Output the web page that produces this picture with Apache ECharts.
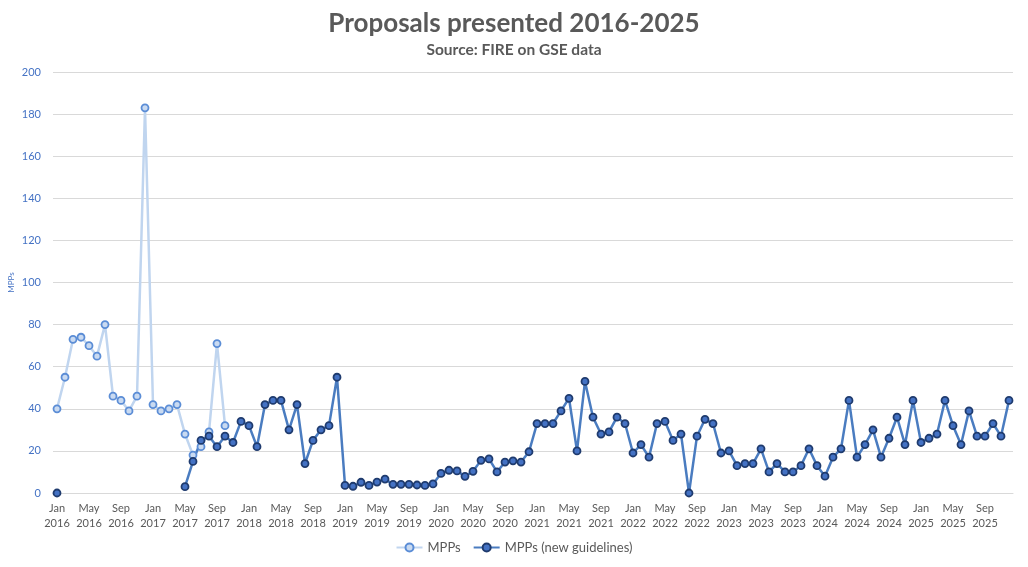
<!DOCTYPE html>
<html>
<head>
<meta charset="utf-8">
<script src="https://cdn.jsdelivr.net/npm/echarts@6/dist/echarts.min.js"></script>
<style>
html,body{margin:0;padding:0;background:#fff;}
#chart{width:1028px;height:567px;}
</style>
</head>
<body>
<div id="chart"></div>
<script>
const monthNames = ['Jan','Feb','Mar','Apr','May','Jun','Jul','Aug','Sep','Oct','Nov','Dec'];
const years = [2016,2017,2018,2019,2020,2021,2022,2023,2024,2025];
const categories = [];
years.forEach(y => monthNames.forEach(m => categories.push(m + ' ' + y)));

// MPPs (old series), Jan 2016 - Oct 2017
const mppsOld = [40,55,73,74,70,65,80,46,44,39,46,183,
                 42,39,40,42,28,18,22,29,71,32];

// MPPs (new guidelines): Jan 2016 = 0, then from May 2017
const mppsNewStart = [0];
const mppsNewFromMay2017 = [3,15,25,27,22,27,24,34,
  32,22,42,44,44,30,42,14,25,30,32,55,
  3.6,3.2,5.1,3.6,5.2,6.6,4.1,4.1,4.1,3.8,3.6,4.3,
  9.3,10.8,10.5,7.9,10.3,15.5,16.2,10,14.7,15.3,14.7,19.6,
  33,33,33,39,45,20,53,36,28,29,36,33,
  19,23,17,33,34,25,28,0,27,35,33,19,
  20,13,14,14,21,10,14,10,10,13,21,13,
  8,17,21,44,17,23,30,17,26,36,23,44,
  24,26,28,44,32,23,39,27,27,33,27,44];

const yTicks = {min:0, max:200, interval:20};

const oldData = categories.map((c,i) => i < mppsOld.length ? mppsOld[i] : null);
const newData = categories.map((c,i) => {
  if (i === 0) return mppsNewStart[0];
  if (i >= 16) return mppsNewFromMay2017[i-16];
  return null;
});

const font = 'Lato, "Open Sans", sans-serif';
const chart = echarts.init(document.getElementById('chart'));
chart.setOption({
  backgroundColor:'#fff',
  animation:false,
  title:{
    text:'Proposals presented 2016-2025',
    subtext:'Source: FIRE on GSE data',
    left:'center', top:6, itemGap:5,
    textStyle:{fontFamily:font, fontSize:26, fontWeight:'bold', color:'#595959'},
    subtextStyle:{fontFamily:font, fontSize:15.5, fontWeight:'bold', color:'#595959'}
  },
  legend:{
    bottom:8, left:'center', itemWidth:26, itemHeight:10, itemGap:12,
    textStyle:{fontFamily:font, fontSize:13, color:'#595959'},
    data:['MPPs','MPPs (new guidelines)']
  },
  grid:{left:53, right:15, top:72, bottom:74, containLabel:false, outerBoundsMode:'none'},
  xAxis:{
    type:'category', data:categories, boundaryGap:true,
    axisLine:{lineStyle:{color:'#D9D9D9'}},
    axisTick:{interval:3, length:4, lineStyle:{color:'#D9D9D9'}},
    axisLabel:{interval:3, formatter:v => v.replace(' ', '\n'), fontFamily:font, fontSize:11, color:'#595959', lineHeight:15, margin:8}
  },
  yAxis:{
    type:'value', min:yTicks.min, max:yTicks.max, interval:yTicks.interval,
    name:'MPPs', nameLocation:'middle', nameGap:38, nameMoveOverlap:false,
    nameTextStyle:{fontFamily:font, fontSize:8, color:'#4472C4'},
    axisLine:{show:false}, axisTick:{show:false},
    axisLabel:{fontFamily:font, fontSize:11, color:'#4472C4', margin:12},
    splitLine:{lineStyle:{color:'#D9D9D9'}}
  },
  series:[
    {
      name:'MPPs', type:'line', data:oldData, connectNulls:false,
      symbol:'circle', symbolSize:7, showAllSymbol:true,
      lineStyle:{color:'#C0D5EF', width:2.5},
      itemStyle:{color:'#C9DAF1', borderColor:'#5B8DD6', borderWidth:1.8}
    },
    {
      name:'MPPs (new guidelines)', type:'line', data:newData, connectNulls:false,
      symbol:'circle', symbolSize:7, showAllSymbol:true,
      lineStyle:{color:'#4A7CC0', width:2.5},
      itemStyle:{color:'#4472C4', borderColor:'#1F3B6E', borderWidth:1.8}
    }
  ]
});
</script>
</body>
</html>
